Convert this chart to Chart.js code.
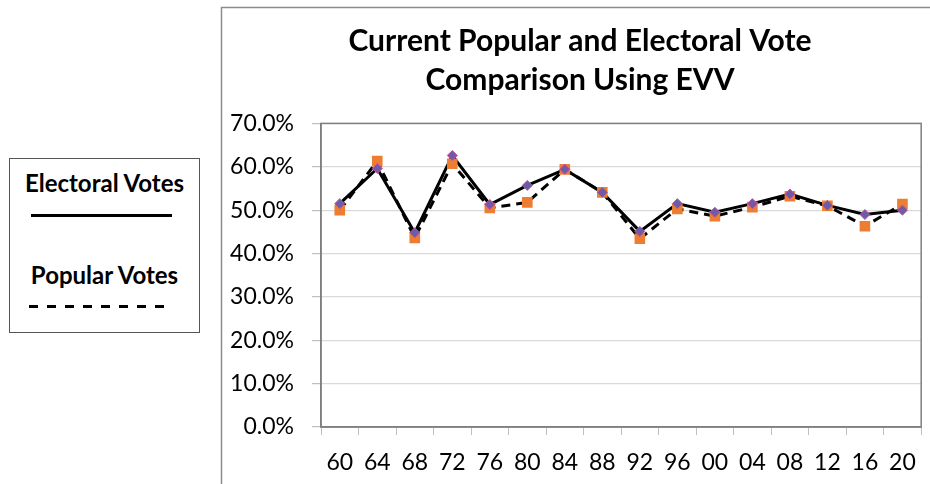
<!DOCTYPE html>
<html>
<head>
<meta charset="utf-8">
<script src="https://cdn.jsdelivr.net/npm/chart.js@4/dist/chart.umd.min.js"></script>
<style>
  html, body { margin: 0; padding: 0; background: #fff; }
  #wrap { position: relative; width: 930px; height: 484px; overflow: hidden; }
  canvas { position: absolute; left: 0; top: 0; }
  #key {
    position: absolute; left: 9px; top: 158px; width: 191px; height: 175px;
    border: 1.5px solid #555; box-sizing: border-box; background: #fff;
    font-family: Lato, "Open Sans", sans-serif; font-weight: bold; color: #000;
  }
  #key .lbl { position: absolute; left: 0; width: 100%; text-align: center; font-size: 24px; line-height: 28px; white-space: nowrap; }
  #key svg { position: absolute; left: 0; top: 0; }
</style>
</head>
<body>
<div id="wrap">
  <canvas id="c" width="930" height="484"></canvas>
  <div id="key">
    <div class="lbl" style="top:10px">Electoral Votes</div>
    <div class="lbl" style="top:102px">Popular Votes</div>
    <svg width="191" height="175">
      <line x1="21" y1="56.5" x2="162" y2="56.5" stroke="#000" stroke-width="3"/>
      <line x1="19" y1="147.5" x2="160" y2="147.5" stroke="#000" stroke-width="3" stroke-dasharray="9 9"/>
    </svg>
  </div>
</div>
<script>
// Election years (two-digit) along the horizontal axis
const years = ['60', '64', '68', '72', '76', '80', '84', '88', '92', '96', '00', '04', '08', '12', '16', '20'];

// Winning share in percent
const electoralVotes = [51.5, 59.6, 44.8, 62.6, 51.3, 55.7, 59.4, 54.1, 45.1, 51.5, 49.5, 51.5, 53.7, 51.1, 49.0, 50.0];
const popularVotes   = [50.0, 61.3, 43.6, 60.7, 50.5, 51.8, 59.4, 54.1, 43.4, 50.3, 48.6, 50.7, 53.2, 51.0, 46.3, 51.4];

// Value-axis ticks
const yTicks = [0, 10, 20, 30, 40, 50, 60, 70];

const titleLines = ['Current Popular and Electoral Vote', 'Comparison Using EVV'];

const FONT = 'Lato, "Open Sans", sans-serif';

// Outer chart frame and the box around the plotting area
const frames = {
  id: 'frames',
  afterLayout(chart) {
    // centre the title on the full chart frame, which runs past the right edge
    if (chart.titleBlock) chart.titleBlock.left += 16;
  },
  beforeDraw(chart) {
    const ctx = chart.ctx;
    ctx.save();
    ctx.strokeStyle = '#8c8c8c';
    ctx.lineWidth = 1.5;
    ctx.beginPath();
    ctx.moveTo(221.5, 484);
    ctx.lineTo(221.5, 7.5);
    ctx.lineTo(930, 7.5);
    ctx.stroke();
    ctx.restore();
  },
  beforeDatasetsDraw(chart) {
    const a = chart.chartArea, ctx = chart.ctx;
    ctx.save();
    ctx.strokeStyle = '#7f7f7f';
    ctx.lineWidth = 1.5;
    ctx.strokeRect(a.left, a.top, a.right - a.left, a.bottom - a.top);
    ctx.restore();
  }
};

new Chart(document.getElementById('c'), {
  type: 'line',
  data: {
    labels: years,
    datasets: [
      {
        label: 'Electoral Votes markers',
        data: electoralVotes,
        showLine: false,
        pointStyle: 'rectRot',
        pointRadius: 5,
        pointBackgroundColor: '#6f5aa8',
        pointBorderColor: '#c0509a',
        pointBorderWidth: 1,
        order: 1
      },
      {
        label: 'Popular Votes markers',
        data: popularVotes,
        showLine: false,
        pointStyle: 'rect',
        pointRadius: 7.5,
        pointBackgroundColor: '#ed7d31',
        pointBorderColor: '#ed7d31',
        pointBorderWidth: 0,
        order: 2
      },
      {
        label: 'Electoral Votes',
        data: electoralVotes,
        borderColor: '#000',
        borderWidth: 3,
        pointRadius: 0,
        tension: 0,
        order: 3
      },
      {
        label: 'Popular Votes',
        data: popularVotes,
        borderColor: '#000',
        borderWidth: 3,
        borderDash: [9, 6],
        pointRadius: 0,
        tension: 0,
        order: 4
      }
    ]
  },
  options: {
    responsive: false,
    animation: false,
    events: [],
    layout: { padding: { left: 221, top: 7, right: 7, bottom: 0 } },
    plugins: {
      legend: { display: false },
      tooltip: { enabled: false },
      title: {
        display: true,
        text: titleLines,
        color: '#000',
        font: { family: FONT, size: 30, weight: 'bold', lineHeight: 1.29 },
        padding: { top: 15, bottom: 24 }
      }
    },
    scales: {
      x: {
        type: 'category',
        offset: true,
        grid: {
          offset: true,
          drawOnChartArea: false,
          drawTicks: true,
          tickLength: 8,
          tickColor: '#bfbfbf',
          tickWidth: 1
        },
        border: { display: true, color: '#7f7f7f', width: 1.5 },
        ticks: {
          color: '#000',
          font: { family: FONT, size: 23 },
          padding: 14,
          autoSkip: false,
          maxRotation: 0
        },
        afterFit(scale) { scale.height = 57; }
      },
      y: {
        min: 0,
        max: 70,
        grid: {
          color: '#d9d9d9',
          lineWidth: 1.2,
          drawTicks: true,
          tickLength: 9,
          tickColor: '#bfbfbf'
        },
        border: { display: true, color: '#7f7f7f', width: 1.5 },
        afterBuildTicks(scale) { scale.ticks = yTicks.map(v => ({ value: v })); },
        ticks: {
          color: '#000',
          font: { family: FONT, size: 23 },
          padding: 18,
          callback: v => v.toFixed(1) + '%'
        },
        afterFit(scale) { scale.width = 100; }
      }
    }
  },
  plugins: [frames]
});
</script>
</body>
</html>
